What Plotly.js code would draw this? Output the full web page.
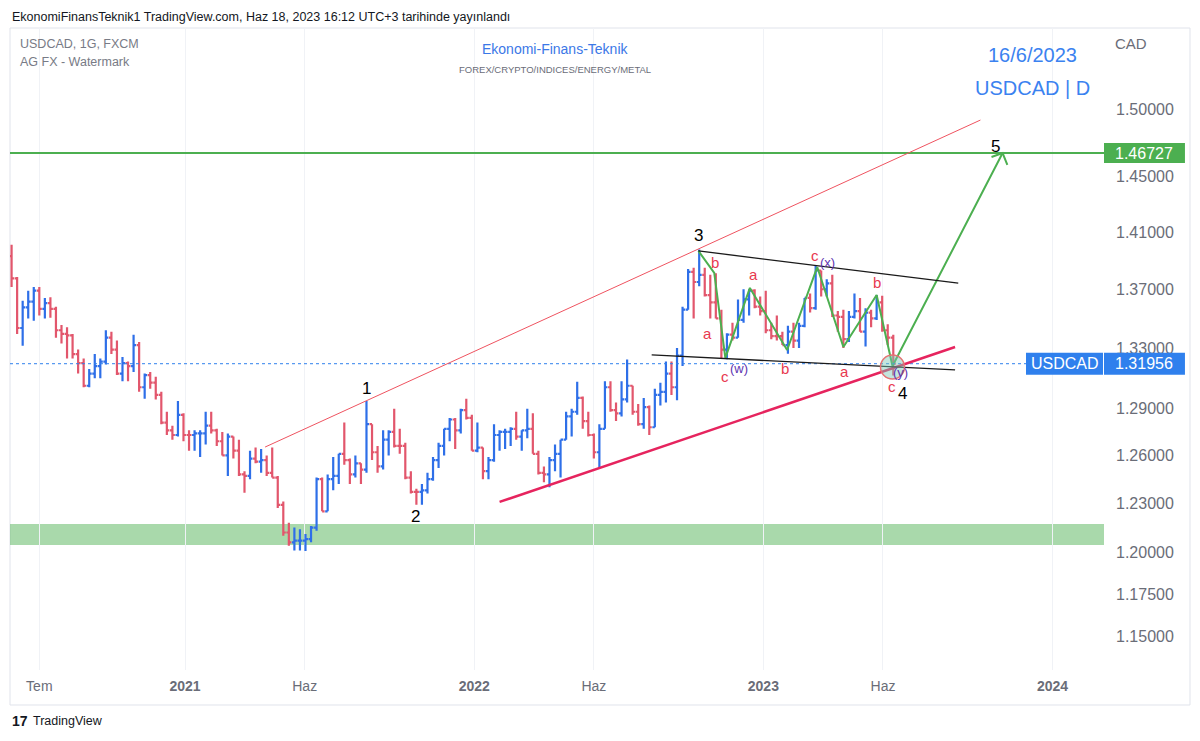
<!DOCTYPE html>
<html><head><meta charset="utf-8">
<script src="https://cdn.plot.ly/plotly-3.0.1.min.js"></script>
<style>html,body{margin:0;padding:0;background:#fff;} #chart{width:1200px;height:741px;}</style>
</head><body><div id="chart"></div>
<script>
// Weekly USDCAD bars [open, high, low, close], week of 2020-05-25 .. 2023-06-12
const firstWeekMid = '2020-05-27';
const bars2020 = [
[1.3930,1.4010,1.3715,1.3775],[1.3775,1.3785,1.3395,1.3435],[1.3435,1.3620,1.3315,1.3575],[1.3575,1.3690,1.3500,1.3615],
[1.3615,1.3715,1.3485,1.3690],[1.3690,1.3715,1.3520,1.3565],[1.3565,1.3640,1.3500,1.3605],[1.3605,1.3645,1.3505,1.3565],
[1.3565,1.3580,1.3370,1.3420],[1.3420,1.3455,1.3330,1.3395],[1.3395,1.3440,1.3230,1.3385],[1.3385,1.3395,1.3230,1.3260],
[1.3260,1.3290,1.3130,1.3200],[1.3200,1.3230,1.3040,1.3050],[1.3050,1.3160,1.3040,1.3130],[1.3130,1.3260,1.3100,1.3180],
[1.3180,1.3230,1.3100,1.3210],[1.3210,1.3420,1.3190,1.3370],[1.3370,1.3410,1.3260,1.3290],[1.3290,1.3350,1.3120,1.3130],
[1.3130,1.3240,1.3080,1.3200],[1.3200,1.3210,1.3080,1.3180],[1.3180,1.3390,1.3140,1.3320],[1.3320,1.3340,1.3010,1.3040],
[1.3040,1.3130,1.2965,1.3120],[1.3120,1.3140,1.3030,1.3070],[1.3070,1.3110,1.2960,1.2990],[1.2990,1.3010,1.2800,1.2810],
[1.2810,1.2880,1.2730,1.2760],[1.2760,1.2790,1.2700,1.2730],[1.2730,1.2950,1.2720,1.2860],[1.2860,1.2870,1.2690,1.2730]
];
const bars2021 = [
[1.2730,1.2760,1.2630,1.2730],[1.2730,1.2760,1.2630,1.2740],[1.2740,1.2760,1.2590,1.2740],[1.2740,1.2880,1.2670,1.2790],
[1.2790,1.2880,1.2740,1.2760],[1.2760,1.2770,1.2660,1.2690],[1.2690,1.2750,1.2600,1.2600],[1.2600,1.2740,1.2470,1.2720],
[1.2720,1.2720,1.2580,1.2630],[1.2630,1.2700,1.2470,1.2480],[1.2480,1.2500,1.2365,1.2470],[1.2470,1.2630,1.2450,1.2580],
[1.2580,1.2650,1.2550,1.2560],[1.2560,1.2640,1.2490,1.2570],[1.2570,1.2600,1.2470,1.2490],[1.2490,1.2650,1.2460,1.2460],
[1.2460,1.2470,1.2270,1.2290],[1.2290,1.2310,1.2100,1.2120],[1.2120,1.2180,1.2040,1.2060],[1.2060,1.2150,1.2010,1.2070],
[1.2070,1.2140,1.2010,1.2070],[1.2070,1.2110,1.2007,1.2080],[1.2080,1.2160,1.2060,1.2150],[1.2150,1.2460,1.2130,1.2450],
[1.2450,1.2460,1.2250,1.2250],[1.2250,1.2480,1.2250,1.2450],[1.2450,1.2590,1.2380,1.2470],[1.2470,1.2610,1.2420,1.2610],
[1.2610,1.2810,1.2540,1.2570],[1.2570,1.2580,1.2420,1.2480],[1.2480,1.2600,1.2460,1.2550],[1.2550,1.2550,1.2420,1.2510],
[1.2510,1.2950,1.2490,1.2800],[1.2800,1.2800,1.2570,1.2620],[1.2620,1.2660,1.2490,1.2530],[1.2530,1.2760,1.2510,1.2700],
[1.2700,1.2760,1.2600,1.2750],[1.2750,1.2900,1.2650,1.2660],[1.2660,1.2770,1.2610,1.2660],[1.2660,1.2680,1.2450,1.2460],
[1.2460,1.2500,1.2360,1.2370],[1.2370,1.2390,1.2290,1.2370],[1.2370,1.2420,1.2290,1.2380],[1.2380,1.2490,1.2360,1.2450],
[1.2450,1.2590,1.2440,1.2570],[1.2570,1.2680,1.2520,1.2660],[1.2660,1.2770,1.2600,1.2770],[1.2770,1.2840,1.2690,1.2830],
[1.2830,1.2840,1.2640,1.2760],[1.2760,1.2900,1.2740,1.2890],[1.2890,1.2965,1.2830,1.2840],[1.2840,1.2860,1.2630,1.2630]
];
const bars2022 = [
[1.2630,1.2810,1.2620,1.2650],[1.2650,1.2650,1.2450,1.2500],[1.2500,1.2590,1.2450,1.2570],[1.2570,1.2800,1.2560,1.2730],
[1.2730,1.2760,1.2630,1.2750],[1.2750,1.2770,1.2640,1.2750],[1.2750,1.2780,1.2660,1.2770],[1.2770,1.2880,1.2700,1.2720],
[1.2720,1.2760,1.2630,1.2760],[1.2760,1.2900,1.2710,1.2770],[1.2770,1.2870,1.2610,1.2610],[1.2610,1.2630,1.2480,1.2490],
[1.2490,1.2530,1.2430,1.2480],[1.2480,1.2590,1.2400,1.2570],[1.2570,1.2670,1.2500,1.2610],[1.2610,1.2700,1.2460,1.2700],
[1.2700,1.2880,1.2700,1.2850],[1.2850,1.2900,1.2720,1.2880],[1.2880,1.3076,1.2860,1.2970],[1.2970,1.2980,1.2770,1.2820],
[1.2820,1.2880,1.2720,1.2730],[1.2730,1.2740,1.2580,1.2620],[1.2620,1.2800,1.2518,1.2770],[1.2770,1.3080,1.2770,1.3040],
[1.3040,1.3080,1.2880,1.2890],[1.2890,1.2940,1.2820,1.2870],[1.2870,1.3080,1.2850,1.2960],[1.2960,1.3224,1.2940,1.3050],
[1.3050,1.3050,1.2860,1.2880],[1.2880,1.2930,1.2790,1.2800],[1.2800,1.2970,1.2770,1.2910],[1.2910,1.2920,1.2730,1.2780],
[1.2780,1.3030,1.2780,1.2990],[1.2990,1.3070,1.2920,1.3010],[1.3010,1.3210,1.2940,1.3130],[1.3130,1.3210,1.2990,1.3040],
[1.3040,1.3300,1.2955,1.3250],[1.3250,1.3580,1.3180,1.3560],[1.3560,1.3840,1.3560,1.3820],[1.3820,1.3850,1.3500,1.3750],
[1.3750,1.3977,1.3720,1.3800],[1.3800,1.3850,1.3650,1.3660],[1.3660,1.3800,1.3500,1.3610],[1.3610,1.3810,1.3500,1.3500],
[1.3500,1.3560,1.3230,1.3290],[1.3290,1.3400,1.3226,1.3390],[1.3390,1.3470,1.3350,1.3370],[1.3370,1.3630,1.3370,1.3490],
[1.3490,1.3700,1.3470,1.3630],[1.3630,1.3700,1.3520,1.3690],[1.3690,1.3700,1.3570,1.3580],[1.3580,1.3650,1.3520,1.3550]
];
const bars2023 = [
[1.3550,1.3690,1.3400,1.3420],[1.3420,1.3470,1.3360,1.3380],[1.3380,1.3520,1.3350,1.3380],[1.3380,1.3410,1.3320,1.3320],
[1.3320,1.3450,1.3262,1.3410],[1.3410,1.3470,1.3300,1.3350],[1.3350,1.3470,1.3300,1.3450],[1.3450,1.3640,1.3440,1.3640],
[1.3640,1.3670,1.3540,1.3570],[1.3570,1.3862,1.3560,1.3830],[1.3830,1.3830,1.3650,1.3700],[1.3700,1.3770,1.3650,1.3740],
[1.3740,1.3800,1.3510,1.3520],[1.3520,1.3550,1.3410,1.3510],[1.3510,1.3560,1.3300,1.3360],[1.3360,1.3550,1.3340,1.3510],
[1.3510,1.3670,1.3500,1.3550],[1.3550,1.3640,1.3410,1.3410],[1.3410,1.3570,1.3310,1.3540],[1.3540,1.3560,1.3440,1.3500],
[1.3500,1.3660,1.3490,1.3610],[1.3610,1.3655,1.3410,1.3420],[1.3420,1.3460,1.3320,1.3370],[1.3370,1.3390,1.3117,1.31956]
];

const tickDates = ['2020-07-01','2021-01-01','2021-06-01','2022-01-01','2022-06-01','2023-01-01','2023-06-01','2024-01-01'];
const tickNames = ['Tem','<b>2021</b>','Haz','<b>2022</b>','Haz','<b>2023</b>','Haz','<b>2024</b>'];
const priceTicks = [1.5,1.45,1.41,1.37,1.33,1.29,1.26,1.23,1.2,1.175,1.15];
const priceTickText = ['1.50000','1.45000','1.41000','1.37000','1.33000','1.29000','1.26000','1.23000','1.20000','1.17500','1.15000'];
const lastPrice = 1.31956;
const targetPrice = 1.46727;
const supportZone = [1.2044, 1.2172];

// drawings (Elliott wave count)
const waveDates  = ['2022-10-11','2022-10-31','2022-11-14','2022-12-15','2023-01-31','2023-03-10','2023-04-12','2023-05-24','2023-06-13','2023-10-30'];
const wavePrices = [1.3967, 1.3813, 1.3234, 1.3709, 1.3287, 1.3854, 1.3307, 1.3660, 1.3180, 1.4673];
const arrowHeadDates  = ['2023-10-16','2023-10-30','2023-11-05'];
const arrowHeadPrices = [1.4644, 1.4673, 1.4585];
const upperRedLine = {d:['2021-04-12','2023-10-02'], p:[1.2653,1.4919]};
const lowerPinkLine = {d:['2022-02-02','2023-08-31'], p:[1.2308,1.3307]};
const channelTop = {d:['2022-10-11','2023-09-04'], p:[1.3967,1.3743]};
const channelBottom = {d:['2022-08-13','2023-08-31'], p:[1.3254,1.3154]};
const circleCenter = {d:'2023-06-13', p:1.3174};

const waveNumbers = [
  {t:'1', d:'2021-08-18', p:1.3035},
  {t:'2', d:'2021-10-19', p:1.2221},
  {t:'3', d:'2022-10-11', p:1.4073},
  {t:'4', d:'2023-06-26', p:1.3002},
  {t:'5', d:'2023-10-21', p:1.4725}
];
const redLetters = [
  {t:'b', d:'2022-11-01', p:1.3889},
  {t:'a', d:'2022-12-20', p:1.3799},
  {t:'a', d:'2022-10-23', p:1.3401},
  {t:'c', d:'2022-11-14', p:1.3108},
  {t:'b', d:'2023-01-28', p:1.3167},
  {t:'a', d:'2023-04-14', p:1.3147},
  {t:'c', d:'2023-03-07', p:1.3938},
  {t:'b', d:'2023-05-25', p:1.3750},
  {t:'c', d:'2023-06-13', p:1.3048}
];
const purpleLetters = [
  {t:'(w)', d:'2022-12-01', p:1.3161},
  {t:'(x)', d:'2023-03-23', p:1.3889},
  {t:'(y)', d:'2023-06-23', p:1.3134}
];

const bars = [...bars2020, ...bars2021, ...bars2022, ...bars2023];
const dates = bars.map((_, i) => {
  const d = new Date(firstWeekMid + 'T00:00:00Z');
  d.setUTCDate(d.getUTCDate() + 7 * i);
  return d.toISOString().slice(0, 10);
});
const Y_RANGE = [0.053415, 0.193879];
const yp = p => (Math.log10(p) - Y_RANGE[0]) / (Y_RANGE[1] - Y_RANGE[0]);   // price -> paper y
const UP = '#2e6fe8', DOWN = '#e2566c', GREEN = '#4caf50', BLUE = '#2f80ed';
const FONT = 'Liberation Sans, Arial, sans-serif';

const traces = [
  {
    type: 'ohlc', x: dates,
    open: bars.map(b => b[0]), high: bars.map(b => b[1]), low: bars.map(b => b[2]), close: bars.map(b => b[3]),
    increasing: {line: {color: UP, width: 2.2}},
    decreasing: {line: {color: DOWN, width: 2.2}},
    tickwidth: 0.45, hoverinfo: 'skip'
  },
  {type: 'scatter', mode: 'lines', x: waveDates, y: wavePrices, line: {color: GREEN, width: 2}, hoverinfo: 'skip'},
  {type: 'scatter', mode: 'lines', x: arrowHeadDates, y: arrowHeadPrices, line: {color: GREEN, width: 2}, hoverinfo: 'skip'}
];

const lineShape = (o, color, width) => ({type: 'line', xref: 'x', yref: 'paper', x0: o.d[0], x1: o.d[1], y0: yp(o.p[0]), y1: yp(o.p[1]), line: {color, width}});

const shapes = [
  {type: 'rect', xref: 'paper', yref: 'paper', x0: 0, x1: 1.0786, y0: -0.0545, y1: 1.0, line: {color: '#e0e3eb', width: 1}, layer: 'below'},
  {type: 'rect', xref: 'paper', yref: 'paper', x0: 0, x1: 1, y0: yp(supportZone[0]), y1: yp(supportZone[1]), fillcolor: 'rgba(76,175,80,0.48)', line: {width: 0}, layer: 'below'},
  {type: 'line', xref: 'paper', yref: 'paper', x0: 0, x1: 1, y0: yp(targetPrice), y1: yp(targetPrice), line: {color: GREEN, width: 2}},
  {type: 'line', xref: 'paper', yref: 'paper', x0: 0, x1: 0.9287, y0: yp(lastPrice), y1: yp(lastPrice), line: {color: BLUE, width: 1, dash: 'dot'}},
  lineShape(upperRedLine, '#ef5360', 1),
  lineShape(lowerPinkLine, '#e6245e', 2.5),
  lineShape(channelTop, '#1a1a1a', 1.3),
  lineShape(channelBottom, '#1a1a1a', 1.3),
  {type: 'circle', xref: 'x', yref: 'paper', xsizemode: 'pixel', ysizemode: 'pixel', xanchor: circleCenter.d, yanchor: yp(circleCenter.p),
   x0: -12, x1: 12, y0: -12, y1: 12, fillcolor: 'rgba(120,200,180,0.45)', line: {color: '#e57373', width: 1.5}},
  {type: 'rect', xref: 'paper', yref: 'paper', ysizemode: 'pixel', yanchor: yp(targetPrice), x0: 1.0, x1: 1.074, y0: -10, y1: 10, fillcolor: GREEN, line: {width: 0}},
  {type: 'rect', xref: 'paper', yref: 'paper', ysizemode: 'pixel', yanchor: yp(lastPrice), x0: 0.9287, x1: 0.9991, y0: -11, y1: 11, fillcolor: BLUE, line: {width: 0}},
  {type: 'rect', xref: 'paper', yref: 'paper', ysizemode: 'pixel', yanchor: yp(lastPrice), x0: 1.0, x1: 1.074, y0: -11, y1: 11, fillcolor: BLUE, line: {width: 0}}
];

const ann = [];
const txt = (text, x, y, size, color, extra) => Object.assign({text, x, y, xref: 'paper', yref: 'paper', showarrow: false, xanchor: 'center', yanchor: 'middle', font: {family: FONT, size, color}}, extra || {});
ann.push(txt('EkonomiFinansTeknik1 TradingView.com, Haz 18, 2023 16:12 UTC+3 tarihinde yayınlandı', 0, 1.0171, 12.5, '#131722', {xanchor: 'left'}));
ann.push(txt('USDCAD, 1G, FXCM', 0.0073, 0.975, 12.5, '#787b86', {xanchor: 'left'}));
ann.push(txt('AG FX - Watermark', 0.0073, 0.947, 12.5, '#787b86', {xanchor: 'left'}));
ann.push(txt('Ekonomi-Finans-Teknik', 0.4982, 0.9673, 14, '#3b78e7'));
ann.push(txt('FOREX/CRYPTO/INDICES/ENERGY/METAL', 0.4982, 0.9361, 9.5, '#6a6d78'));
ann.push(txt('16/6/2023', 0.9351, 0.958, 20, '#3b82f0'));
ann.push(txt('USDCAD | D', 0.9351, 0.9065, 20, '#3b82f0'));
ann.push(txt('CAD', 1.0247, 0.9766, 15, '#6a6d78'));
ann.push(txt('<b>17</b>', 0.0, -0.0794, 14, '#131722', {xanchor: 'left'}));
ann.push(txt('TradingView', 0.0195, -0.0794, 12.5, '#131722', {xanchor: 'left'}));
ann.push(txt('1.46727', 1.037, yp(targetPrice), 16, '#ffffff'));
ann.push(txt('USDCAD', 0.9639, yp(lastPrice), 16, '#ffffff'));
ann.push(txt('1.31956', 1.037, yp(lastPrice), 16, '#ffffff'));
waveNumbers.forEach(w => ann.push({text: w.t, xref: 'x', yref: 'paper', x: w.d, y: yp(w.p), showarrow: false, xanchor: 'center', yanchor: 'middle', font: {family: FONT, size: 17, color: '#000000'}}));
redLetters.forEach(w => ann.push({text: w.t, xref: 'x', yref: 'paper', x: w.d, y: yp(w.p), showarrow: false, xanchor: 'center', yanchor: 'middle', font: {family: FONT, size: 15, color: '#e8394f'}}));
purpleLetters.forEach(w => ann.push({text: w.t, xref: 'x', yref: 'paper', x: w.d, y: yp(w.p), showarrow: false, xanchor: 'center', yanchor: 'middle', font: {family: FONT, size: 13, color: '#5e35b1'}}));

const layout = {
  width: 1200, height: 741,
  margin: {l: 10, r: 96, t: 28, b: 71},
  paper_bgcolor: '#ffffff', plot_bgcolor: '#ffffff',
  showlegend: false,
  font: {family: FONT},
  xaxis: {
    type: 'date', range: ['2020-05-25', '2024-03-06'],
    tickmode: 'array', tickvals: tickDates, ticktext: tickNames,
    showgrid: true, gridcolor: '#f0f2f6', zeroline: false, showline: false, ticks: '',
    tickfont: {family: FONT, size: 14, color: '#6a6d78'},
    ticklabelstandoff: 6,
    rangeslider: {visible: false}, fixedrange: true
  },
  yaxis: {
    type: 'log', side: 'right', range: Y_RANGE,
    tickmode: 'array', tickvals: priceTicks, ticktext: priceTickText,
    showgrid: false, zeroline: false, showline: false, ticks: '',
    tickfont: {family: FONT, size: 16, color: '#6a6d78'},
    ticklabelstandoff: 11, fixedrange: true
  },
  shapes, annotations: ann
};

Plotly.newPlot('chart', traces, layout, {staticPlot: true, displayModeBar: false});
</script>
</body></html>
